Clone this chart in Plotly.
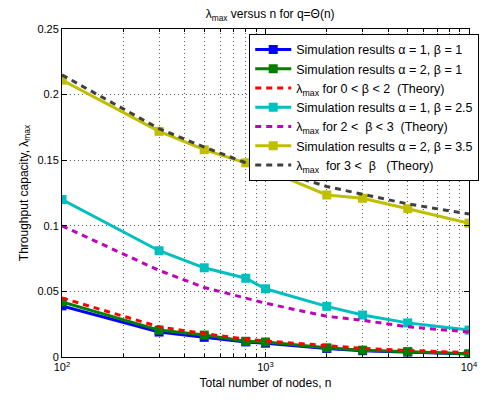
import plotly.graph_objects as go

n = [100, 300, 500, 800, 1000, 2000, 3000, 5000, 10000]

sim_a1_b1 = [0.039, 0.019, 0.015, 0.0115, 0.0105, 0.0065, 0.0048, 0.0038, 0.0022]
sim_a2_b1 = [0.042, 0.0205, 0.0167, 0.012, 0.0114, 0.007, 0.0052, 0.004, 0.0024]
th_b_0_2 = [0.045, 0.023, 0.0178, 0.0136, 0.0122, 0.0084, 0.0066, 0.0050, 0.0033]
sim_a1_b25 = [0.12, 0.081, 0.068, 0.060, 0.052, 0.0386, 0.032, 0.026, 0.0205]
th_b_2_3 = [0.100, 0.066, 0.053, 0.0447, 0.041, 0.031, 0.028, 0.023, 0.019]
sim_a2_b35 = [0.211, 0.172, 0.158, 0.148, 0.143, 0.1235, 0.121, 0.113, 0.102]
th_b_3 = [0.215, 0.174, 0.160, 0.148, 0.144, 0.130, 0.124, 0.1167, 0.109]

names = [
    "Simulation results α = 1, β = 1",
    "Simulation results α = 2, β = 1",
    "λ<sub>max</sub> for 0 < β < 2  (Theory)",
    "Simulation results α = 1, β = 2.5",
    "λ<sub>max</sub> for 2 <  β < 3  (Theory)",
    "Simulation results α = 2, β = 3.5",
    "λ<sub>max</sub>  for 3 <  β   (Theory)",
]

fig = go.Figure()

def sim(y, color, name):
    fig.add_trace(go.Scatter(x=n, y=y, mode="lines+markers", name=name,
                             line=dict(color=color, width=3),
                             marker=dict(symbol="square", size=9, color=color)))

def th(y, color, name):
    fig.add_trace(go.Scatter(x=n, y=y, mode="lines", name=name,
                             line=dict(color=color, width=3, dash="6px,5px")))

sim(sim_a1_b1, "#0000ff", names[0])
sim(sim_a2_b1, "#008000", names[1])
th(th_b_0_2, "#ff0000", names[2])
sim(sim_a1_b25, "#00bfbf", names[3])
th(th_b_2_3, "#bf00bf", names[4])
sim(sim_a2_b35, "#bfbf00", names[5])
th(th_b_3, "#404040", names[6])

font = dict(family="Liberation Sans, Arial, sans-serif", size=11, color="black")
grid = dict(showgrid=True, gridcolor="#555", griddash="1px,3px", gridwidth=1)

fig.update_layout(
    width=485, height=400,
    margin=dict(l=62, r=6, t=29, b=43),
    paper_bgcolor="white", plot_bgcolor="white",
    font=font,
    title=dict(text="λ<sub>max</sub> versus n for q=Θ(n)", x=0.557, xanchor="center",
               y=0.975, yanchor="top", font=dict(size=12)),
    showlegend=True,
    legend=dict(x=0.46, y=0.985, xanchor="left", yanchor="top",
                bordercolor="black", borderwidth=1, bgcolor="white",
                font=dict(size=12.5), itemwidth=36, tracegroupgap=0),
    xaxis=dict(type="log", range=[2, 4], showline=True, linecolor="black", linewidth=1,
               mirror="allticks", ticks="inside", ticklen=5, tickcolor="black",
               tickvals=[100, 1000, 10000],
               ticktext=["10<sup>2</sup>", "10<sup>3</sup>", "10<sup>4</sup>"],
               ticklabeloverflow="allow", automargin=False,
               minor=dict(tickvals=[200, 300, 400, 500, 600, 700, 800, 900,
                                    2000, 3000, 4000, 5000, 6000, 7000, 8000, 9000],
                          ticks="inside", ticklen=3, tickcolor="black", **grid),
               title=dict(text="Total number of nodes, n", standoff=6, font=dict(size=12)),
               zeroline=False, **grid),
    yaxis=dict(range=[0, 0.25], showline=True, linecolor="black", linewidth=1,
               mirror="allticks", ticks="inside", ticklen=5, tickcolor="black",
               tickvals=[0, 0.05, 0.1, 0.15, 0.2, 0.25],
               ticktext=["0", "0.05", "0.1", "0.15", "0.2", "0.25"],
               automargin=False,
               title=dict(text="Throughput capacity, λ<sub>max</sub>", standoff=6,
                          font=dict(size=12)),
               zeroline=False, **grid),
)

fig.write_html("out.html")
